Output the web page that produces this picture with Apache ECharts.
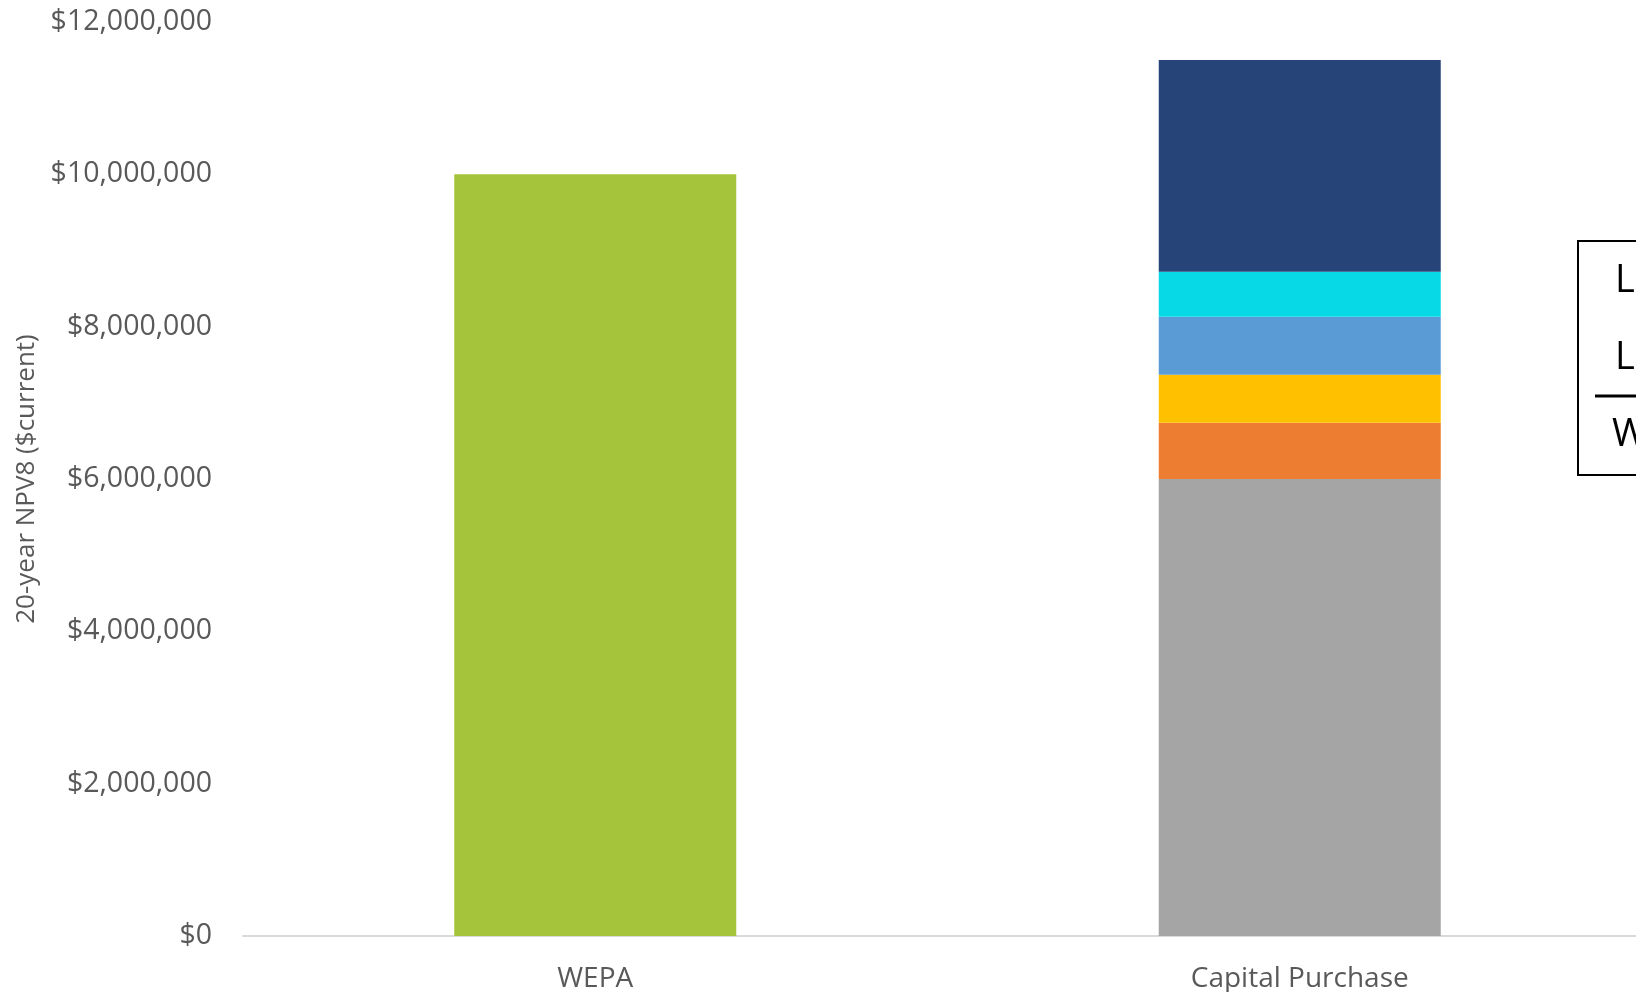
<!DOCTYPE html>
<html>
<head>
<meta charset="utf-8">
<script src="https://cdn.jsdelivr.net/npm/echarts@6/dist/echarts.min.js"></script>
<style>html,body{margin:0;padding:0;background:#fff;}#c{width:1636px;height:992px;}</style>
</head>
<body>
<div id="c"></div>
<script>
const categories = ['WEPA', 'Capital Purchase'];
const wepa = [10000000, '-'];
const segGray = ['-', 6000000];
const segOrange = ['-', 740000];
const segYellow = ['-', 630000];
const segBlue = ['-', 760000];
const segCyan = ['-', 590000];
const segNavy = ['-', 2780000];
const yTicks = { min: 0, max: 12000000, interval: 2000000 };
const yAxisTitle = '20-year NPV8 ($current)';
const boxLetters = ['L', 'L', 'W'];

const chart = echarts.init(document.getElementById('c'));
const font = '"Open Sans", sans-serif';
function seg(name, data, color, stack) {
  return { name, type: 'bar', stack, data, barWidth: 282, barGap: '-100%', itemStyle: { color }, emphasis: { disabled: true } };
}
chart.setOption({
  animation: false,
  backgroundColor: '#fff',
  grid: { left: 243, width: 1409, top: 22, bottom: 56, containLabel: false, outerBoundsMode: 'none' },
  xAxis: {
    type: 'category', data: categories,
    axisLine: { lineStyle: { color: '#D9D9D9', width: 2 } },
    axisTick: { show: false },
    axisLabel: { color: '#595959', fontFamily: font, fontSize: 28, margin: 29 }
  },
  yAxis: {
    type: 'value', min: yTicks.min, max: yTicks.max, interval: yTicks.interval,
    name: yAxisTitle, nameLocation: 'middle', nameGap: 198,
    nameTextStyle: { color: '#595959', fontFamily: font, fontSize: 26 },
    splitLine: { show: false },
    axisLine: { show: false }, axisTick: { show: false },
    axisLabel: {
      color: '#595959', fontFamily: font, fontSize: 28.5, margin: 31, padding: [4, 0, 0, 0],
      formatter: v => '$' + v.toLocaleString('en-US')
    }
  },
  series: [
    seg('WEPA', wepa, '#A6C43B', 'w'),
    seg('Gray', segGray, '#A5A5A5', 'cp'),
    seg('Orange', segOrange, '#ED7D31', 'cp'),
    seg('Yellow', segYellow, '#FFC000', 'cp'),
    seg('Blue', segBlue, '#5B9BD5', 'cp'),
    seg('Cyan', segCyan, '#07DAE6', 'cp'),
    seg('Navy', segNavy, '#264478', 'cp')
  ],
  graphic: [
    { type: 'rect', shape: { x: 1578, y: 241, width: 120, height: 234 }, style: { fill: '#fff', stroke: '#000', lineWidth: 2 } },
    { type: 'text', x: 1615, y: 281, style: { text: boxLetters[0], font: '38px "Open Sans", sans-serif', fill: '#000', verticalAlign: 'middle' } },
    { type: 'text', x: 1615, y: 358, style: { text: boxLetters[1], font: '38px "Open Sans", sans-serif', fill: '#000', verticalAlign: 'middle' } },
    { type: 'line', shape: { x1: 1595, y1: 396, x2: 1700, y2: 396 }, style: { stroke: '#000', lineWidth: 3 } },
    { type: 'text', x: 1612, y: 435, style: { text: boxLetters[2], font: '38px "Open Sans", sans-serif', fill: '#000', verticalAlign: 'middle' } }
  ]
});
</script>
</body>
</html>
